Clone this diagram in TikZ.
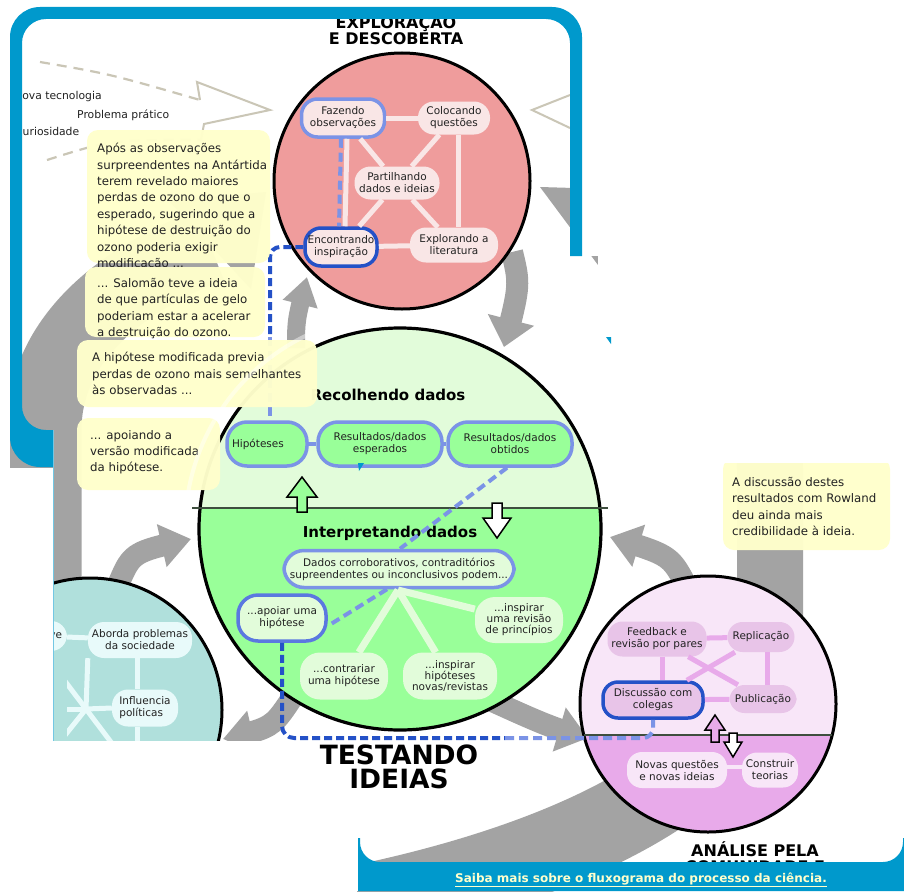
\documentclass[tikz,border=0pt]{standalone}
\usepackage{fontspec}
\setmainfont{DejaVu Sans}
\usetikzlibrary{arrows.meta,bending}
\definecolor{frameblue}{HTML}{0099CC}
\definecolor{arrowgray}{HTML}{A3A3A3}
\definecolor{beige}{HTML}{CAC6B6}
\definecolor{lblue}{HTML}{7B93E6}
\definecolor{dblue}{HTML}{2451C7}
\definecolor{apoblue}{HTML}{5B78E0}
\definecolor{redfill}{HTML}{EF9C9C}
\definecolor{rednode}{HTML}{F9E6E6}
\definecolor{greenlight}{HTML}{E2FCDA}
\definecolor{greenfill}{HTML}{99FF99}
\definecolor{pinklight}{HTML}{F8E6F8}
\definecolor{pinkdark}{HTML}{E8AAEA}
\definecolor{pinknode}{HTML}{E8C4E8}
\definecolor{tealfill}{HTML}{B0E0DC}
\definecolor{tealnode}{HTML}{E8FAFA}
\definecolor{boxyellow}{HTML}{FFFFCC}
\definecolor{textgray}{HTML}{222222}
\definecolor{linkyellow}{HTML}{FFFFCC}
\definecolor{divgray}{HTML}{3E4E3E}
\begin{document}
\begin{tikzpicture}[x=1pt,y=-1pt,
  every node/.style={font=\fontsize{10.5}{12}\selectfont, text=textgray, align=center, inner sep=1pt},
  rn/.style={fill=rednode, rounded corners=16},
  gn/.style={fill=greenfill, draw=lblue, line width=3.5, rounded corners=20},
  gln/.style={fill=greenlight, rounded corners=20},
  pn/.style={fill=pinknode, rounded corners=15},
  pln/.style={fill=pinklight, rounded corners=15},
  tn/.style={fill=tealnode, rounded corners=16},
  rline/.style={draw=rednode, line width=5},
  gline/.style={draw=greenlight, line width=7},
  pline/.style={draw=pinkdark, line width=5},
  tline/.style={draw=tealnode, line width=5},
  lbluedash/.style={draw=lblue, line width=4, dash pattern=on 9pt off 5pt},
  dbluedash/.style={draw=dblue, line width=4, dash pattern=on 8pt off 4pt},
  beigeline/.style={draw=beige, line width=2},
  beigedash/.style={draw=beige, line width=2.2, dash pattern=on 10pt off 7pt},
  garrow/.style={draw=arrowgray, line width=#1},
  ybox/.style={fill=boxyellow, fill opacity=0.97, rounded corners=11},
  ytext/.style={font=\fontsize{11.8}{16.4}\selectfont, align=left, anchor=north west, inner sep=0pt, text=textgray},
  title/.style={font=\bfseries\fontsize{16}{16}\selectfont, text=black, inner sep=0pt},
  divline/.style={draw=divgray, line width=2}
]
\useasboundingbox (0,0) rectangle (904,891);
\fill[white] (0,0) rectangle (904,891);

% ---------- big gray arcs ----------
\draw[garrow=75] (44,620) -- (44,430) .. controls (44,340) and (120,280) .. (210,245);
\fill[arrowgray] (266,192) -- (251,289) -- (169,201) -- cycle;
\draw[garrow=66] (620,229) .. controls (720,280) and (770,370) .. (770,470) -- (770,620);
\fill[arrowgray] (540,187) -- (601,269) -- (642,190) -- cycle;
\draw[garrow=80] (680,780) .. controls (600,840) and (480,880) .. (360,905);

% ---------- small gray arrows ----------
\draw[garrow=22, -{Triangle[width=46pt,length=28pt]}] (512,252) .. controls (520,285) .. (504,347);
\draw[garrow=18, -{Triangle[width=34pt,length=28pt]}] (296,348) .. controls (296,320) .. (307,277);
\draw[garrow=22, -{Triangle[width=44pt,length=30pt]}] (490,700) .. controls (530,718) and (555,730) .. (588,738);
\draw[garrow=22, -{Triangle[width=42pt,length=30pt]}] (686,585) .. controls (670,555) .. (610,537);
\draw[garrow=22, -{Triangle[width=42pt,length=30pt]}] (292,698) .. controls (272,728) .. (223,739);
\draw[garrow=22, -{Triangle[width=42pt,length=30pt]}] (118,585) .. controls (132,552) .. (191,539);

% ---------- exploration outlined arrows ----------
\draw[beigedash] (40,62) .. controls (110,74) .. (200,100);
\draw[beigeline] (200,100) -- (197,82) -- (270,110) -- (204,124) -- (201,140);
\draw[beigedash] (47,160) .. controls (110,140) .. (201,140);
\draw[beigeline] (570,95) -- (532,110) -- (570,128);
\node[anchor=west, inner sep=0pt, font=\fontsize{10.8}{12}\selectfont] (nt) at (14,97) {Nova tecnologia};
\node[anchor=west, inner sep=0pt, font=\fontsize{10.8}{12}\selectfont] (pp) at (77,115) {Problema prático};
\node[anchor=west, inner sep=0pt, font=\fontsize{10.8}{12}\selectfont] (cu) at (15,131) {Curiosidade};

% ---------- red circle ----------
\fill[redfill] (402,181) circle[radius=128];
\draw[line width=3] (402,181) circle[radius=128];
\node[rn, minimum width=83, minimum height=38, draw=lblue, line width=3.5] (faz) at (343,118) {Fazendo\\observações};
\node[rn, minimum width=72, minimum height=33] (col) at (454,118) {Colocando\\questões};
\node[rn, minimum width=85, minimum height=33] (par) at (397,183) {Partilhando\\dados e ideias};
\node[rn, minimum width=72, minimum height=38, draw=dblue, line width=3.5] (enc) at (341,247) {Encontrando\\inspiração};
\node[rn, minimum width=88, minimum height=35] (exl) at (454,245) {Explorando a\\literatura};
\draw[rline] (faz) -- (col);
\draw[rline] ([xshift=4]col.south) -- ([xshift=4]col.south |- exl.north);
\draw[rline] (enc) -- (exl);
\draw[rline] (faz) -- (par);
\draw[rline] (col) -- (par);
\draw[rline] (enc) -- (par);
\draw[rline] (exl) -- (par);
\draw[rline] ([xshift=4]faz.south) -- ([xshift=4]enc.north);
\draw[lbluedash] ([xshift=-2]faz.south) -- ([xshift=-2]enc.north);

% ---------- green circle ----------
\begin{scope}
\clip (400,529) circle[radius=201];
\fill[greenlight] (190,320) rectangle (620,508);
\fill[greenfill] (190,508) rectangle (620,740);
\end{scope}
\draw[line width=3.2] (400,529) circle[radius=201];
\draw[divline] (192,508) -- (608,508);
\node[font=\bfseries\fontsize{15}{16}\selectfont, text=black] (recol) at (388,395) {Recolhendo dados};
\node[font=\bfseries\fontsize{15}{16}\selectfont, text=black] (interp) at (390,533) {Interpretando dados};
\node[gn, minimum width=80, minimum height=44, text width=70, align=left] (hip) at (267,444) {Hipóteses};
\node[gn, minimum width=124, minimum height=44] (res1) at (380,444) {Resultados/dados\\esperados};
\node[gn, minimum width=124, minimum height=44] (res2) at (510,444) {Resultados/dados\\obtidos};
\draw[draw=lblue, line width=3.5] (hip) -- (res1);
\draw[draw=lblue, line width=3.5] (res1) -- (res2);
\fill[frameblue] (358,463) -- (364,463) -- (359,471) -- cycle;
% block arrows
\draw[fill=greenfill, line width=1.5] (297,512) -- (297,497) -- (287,497) -- (302,477) -- (317,497) -- (307,497) -- (307,512) -- cycle;
\draw[fill=white, line width=1.5] (492,503) -- (492,518) -- (483,518) -- (497,538) -- (511,518) -- (502,518) -- (502,503) -- cycle;
\node[gln, draw=lblue, line width=3.5, minimum width=230, minimum height=37] (dad) at (399,569) {Dados corroborativos, contraditórios\\supreendentes ou inconclusivos podem...};
\node[gln, draw=apoblue, line width=3.5, minimum width=88, minimum height=46] (apo) at (282,618) {...apoiar uma\\hipótese};
\node[gln, minimum width=88, minimum height=46, font=\fontsize{10.5}{11}\selectfont] (rev) at (519,620) {...inspirar\\uma revisão\\de princípios};
\node[gln, minimum width=88, minimum height=47] (con) at (344,676) {...contrariar\\uma hipótese};
\node[gln, minimum width=94, minimum height=47, font=\fontsize{10.5}{11}\selectfont] (ins) at (450,676) {...inspirar\\hipóteses\\novas/revistas};
\coordinate (fan) at (398,590);
\draw[gline] (fan) -- (rev);
\draw[gline] (fan) -- (con);
\draw[gline] (fan) -- (ins);
\draw[lbluedash] ([xshift=-12]dad.south) -- ([yshift=-8]apo.east);
\draw[lbluedash] ([xshift=-3]res2.south) -- ([xshift=1]dad.north);

% ---------- pink circle ----------
\begin{scope}
\clip (708,704) circle[radius=128];
\fill[pinklight] (570,570) rectangle (840,735);
\fill[pinkdark] (570,735) rectangle (840,840);
\end{scope}
\draw[line width=3] (708,704) circle[radius=128];
\draw[divline] (584,735) -- (832,735);
\node[pn, minimum width=99, minimum height=35] (fb) at (657,639) {Feedback e\\revisão por pares};
\node[pn, minimum width=67, minimum height=30] (rep) at (761,637) {Replicação};
\node[pn, minimum width=100, minimum height=36, draw=dblue, line width=3.5] (dis) at (653,700) {Discussão com\\colegas};
\node[pn, minimum width=67, minimum height=28] (pub) at (763,699) {Publicação};
\node[pln, minimum width=100, minimum height=36] (nov) at (677,770) {Novas questões\\e novas ideias};
\node[pln, minimum width=56, minimum height=35] (cst) at (770,770) {Construir\\teorias};
\draw[pline] (fb) -- (rep);
\draw[pline] ([xshift=6]rep.south) -- ([xshift=6]rep.south |- pub.north);
\draw[pline] (dis) -- (pub);
\draw[pline] ([xshift=5]fb.south) -- ([xshift=5]fb.south |- dis.north);
\draw[pline] (fb) -- (pub);
\draw[pline] (rep) -- (dis);
\draw[draw=pinklight, line width=4] ([yshift=3]nov.east) -- ([yshift=3]cst.west);
\draw[fill=pinkdark, line width=1.5] (711,742) -- (711,730) -- (705,730) -- (715,715) -- (725,730) -- (719,730) -- (719,742) -- cycle;
\draw[fill=white, line width=1.5] (729,733) -- (729,742) -- (724,742) -- (733,757) -- (742,742) -- (737,742) -- (737,733) -- cycle;

% ---------- teal circle ----------
\fill[tealfill] (90,710) circle[radius=132];
\draw[line width=3] (90,710) circle[radius=132];
\node[tn, minimum width=104, minimum height=36] (abo) at (140,640) {Aborda problemas\\da sociedade};
\node[tn, minimum width=66, minimum height=37, align=left] (inf) at (145,708) {Influencia\\políticas};
\node[tn, minimum width=50, minimum height=30, text width=40, align=right] (ve) at (42,636) {ve};
\draw[tline] (ve) -- (abo);
\draw[tline] ([xshift=-3]abo.south) -- ([xshift=-3]abo.south |- inf.north);
\draw[tline] ([xshift=-8]inf.south) -- ++(0,20);
\coordinate (hub) at (86,709);
\begin{scope}
\clip (67,560) rectangle (230,741);
\draw[tline] (hub) -- (abo.south west);
\draw[tline] (hub) -- (inf.west);
\draw[tline] (hub) -- ++(-40,50);
\draw[tline] (hub) -- ++(-40,-53);
\draw[tline] (hub) -- ++(40,53);
\draw[tline] (hub) -- ++(-40,0);
\end{scope}

% ---------- dashed path ----------
\coordinate (m1) at (270,337);
\coordinate (m2) at (505,738);
\draw[dbluedash, rounded corners=10] (enc.west) -| (m1);
\draw[lbluedash] (m1) -- (m1 |- hip.north);
\draw[dbluedash, rounded corners=12] (apo.south) |- (m2);
\draw[lbluedash, rounded corners=10] (m2) -| (dis.south);

% ---------- yellow box right ----------
\fill[ybox] (723,458) rectangle (890,550);
\node[ytext] (t5) at (732,477) {A discussão destes\\resultados com Rowland\\deu ainda mais\\credibilidade à ideia.};

% ---------- titles before frames ----------
\node[title, align=center] (ttl1) at (396,29) {EXPLORAÇÃO\\E DESCOBERTA};
\node[title, align=center] (ttl3) at (755,857) {ANÁLISE PELA\\COMUNIDADE E};

% ---------- white masks ----------
\fill[white] (582,0) rectangle (904,256);
\fill[white] (598,256) rectangle (904,463);
\fill[white] (0,0) rectangle (10,891);
\fill[white] (0,468) rectangle (53,891);
\fill[white] (53,741) rectangle (359,891);
\fill[frameblue] (606,337) -- (611,337) -- (611,344) -- cycle;

% ---------- frames ----------
\begin{scope}
\clip (0,0) -- (904,0) -- (904,256) -- (53,256) -- (53,891) -- (0,891) -- cycle;
\fill[frameblue, even odd rule] [rounded corners=30] (10,7) rectangle (582,467) [rounded corners=24] (22,19) rectangle (570,430);
\end{scope}
\draw[frameblue!55, line width=0.8] (53,430) -- (53,741);
\begin{scope}
\clip (358,838) rectangle (904,891);
\fill[frameblue, even odd rule] (358,800) rectangle (904,891) [rounded corners=20] (360,780) rectangle (903,862);
\end{scope}
\node[font=\bfseries\fontsize{12}{13}\selectfont, text=linkyellow, inner sep=0pt] (link) at (641,880) {\underline{Saiba mais sobre o fluxograma do processo da ciência.}};

% ---------- testing title ----------
\node[font=\bfseries\fontsize{26.5}{24}\selectfont, text=black, inner sep=0pt] (ttl2) at (399,767) {TESTANDO\\IDEIAS};

% ---------- yellow boxes left ----------
\fill[ybox] (87,130) rectangle (270,263);
\begin{scope}
\clip (80,125) rectangle (275,266);
\node[ytext] (t1) at (97,143) {Após as observações\\surpreendentes na Antártida\\terem revelado maiores\\perdas de ozono do que o\\esperado, sugerindo que a\\hipótese de destruição do\\ozono poderia exigir\\modificação ...};
\end{scope}
\fill[ybox] (85,267) rectangle (265,337);
\begin{scope}
\clip (80,267) rectangle (270,338);
\node[ytext] (t2) at (97,278) {... Salomão teve a ideia\\de que partículas de gelo\\poderiam estar a acelerar\\a destruição do ozono.};
\end{scope}
\fill[ybox] (77,340) rectangle (317,407);
\node[ytext] (t3) at (92,352) {A hipótese modificada previa\\perdas de ozono mais semelhantes\\às observadas ...};
\fill[ybox] (77,418) rectangle (220,490);
\node[ytext] (t4) at (90,430) {... apoiando a\\versão modificada\\da hipótese.};
\draw[white, opacity=0.45, line width=4] plot[domain=105:172, samples=40] ({400+215*cos(\x)}, {529-215*sin(\x)});
\end{tikzpicture}
\end{document}
